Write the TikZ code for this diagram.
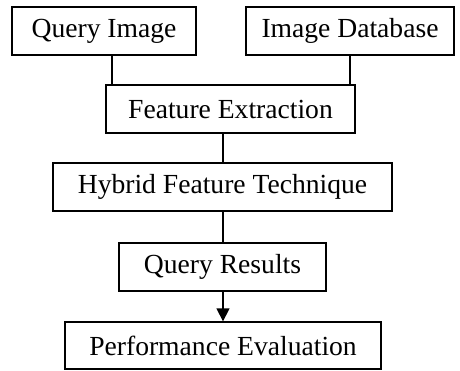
\documentclass[tikz,border=0pt]{standalone}
\usepackage{fontspec}
\setmainfont{Liberation Serif}
\usetikzlibrary{arrows.meta}
\begin{document}
\begin{tikzpicture}[x=1pt,y=-1pt,
  box/.style={draw,line width=1.3pt,inner sep=0pt,minimum height=48pt,font=\fontsize{27.6}{33}\selectfont},
  conn/.style={line width=1.3pt}]
\useasboundingbox (0,0) rectangle (460,371);
\node[box,minimum width=184pt] (qi) at (104,31) {Query Image};
\node[box,minimum width=208pt] (db) at (350,31) {Image Database};
\node[box,minimum width=249pt] (fe) at (230.5,109) {Feature Extraction};
\node[box,minimum width=339pt] (hf) at (222.5,187) {Hybrid Feature Technique};
\node[box,minimum width=207pt] (qr) at (222.5,267) {Query Results};
\node[box,minimum width=316pt,minimum height=47pt] (pe) at (223,345.5) {Performance Evaluation};
\coordinate (c1) at (112,0);
\coordinate (c2) at (350,0);
\coordinate (c3) at (223,0);
\draw[conn] (qi.south -| c1) -- (fe.north -| c1);
\draw[conn] (db.south -| c2) -- (fe.north -| c2);
\draw[conn] (fe.south -| c3) -- (hf.north -| c3);
\draw[conn] (hf.south -| c3) -- (qr.north -| c3);
\draw[conn,-{Triangle[width=13pt,length=13pt]}] (qr.south -| c3) -- (pe.north -| c3);
\end{tikzpicture}
\end{document}
